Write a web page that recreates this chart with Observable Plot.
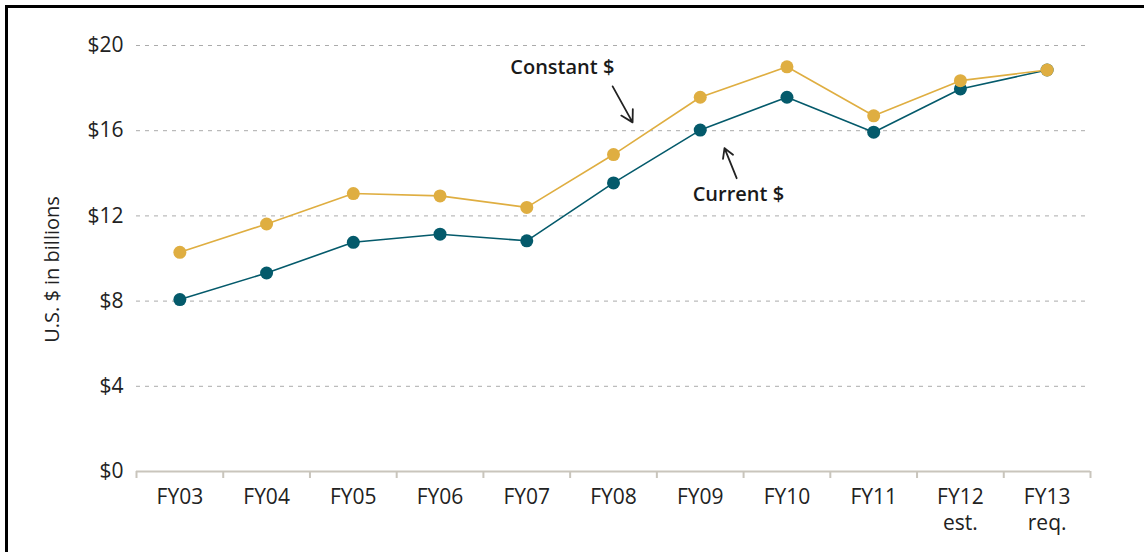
<!DOCTYPE html>
<html>
<head>
<meta charset="utf-8">
<script src="https://cdn.jsdelivr.net/npm/d3@7"></script>
<script src="https://cdn.jsdelivr.net/npm/@observablehq/plot@0.6"></script>
<style>
  html, body { margin: 0; padding: 0; background: #fff; }
  #wrap { position: relative; width: 1144px; height: 552px; overflow: hidden; }
  #frame { position: absolute; left: 5px; top: 5px; right: -10px; bottom: -10px; border-top: 3px solid #000; border-left: 3px solid #000; pointer-events: none; }
  #chart { position: absolute; left: 0; top: 0; }
</style>
</head>
<body>
<div id="wrap"><div id="chart"></div><div id="frame"></div></div>
<script>
const categories = ["FY03", "FY04", "FY05", "FY06", "FY07", "FY08", "FY09", "FY10", "FY11", "FY12", "FY13"];
const subLabels = ["", "", "", "", "", "", "", "", "", "est.", "req."];
const constantValues = [10.29, 11.62, 13.05, 12.94, 12.40, 14.88, 17.57, 19.0, 16.70, 18.35, 18.85];
const currentValues = [8.07, 9.32, 10.76, 11.14, 10.83, 13.55, 16.03, 17.57, 15.93, 17.96, 18.85];
const yTicks = [0, 4, 8, 12, 16, 20];
const yLabel = "U.S. $ in billions";
const seriesNames = ["Constant $", "Current $"];
// annotation anchors in data units (category index, $ billions)
const labelPos = [{x: 4.41, y: 18.97}, {x: 6.44, y: 13.0}];
const arrowPos = [
  {x1: 4.99, y1: 18.08, x2: 5.22, y2: 16.39},
  {x1: 6.42, y1: 13.77, x2: 6.28, y2: 15.18}
];

const gold = "#dfae41";
const teal = "#045a6b";
const axisGray = "#c9c5bc";

const constantData = categories.map((c, i) => ({i, v: constantValues[i]}));
const currentData = categories.map((c, i) => ({i, v: currentValues[i]}));
const subData = subLabels.map((s, i) => ({i, s})).filter(d => d.s);
const labels = labelPos.map((p, k) => ({...p, text: seriesNames[k]}));
const boundaries = d3.range(categories.length + 1).map(i => i - 0.5);

const chart = Plot.plot({
  width: 1144,
  height: 552,
  marginLeft: 136,
  marginRight: 54,
  marginTop: 45,
  marginBottom: 81,
  style: {fontFamily: "'Open Sans', sans-serif", fontSize: "21px", color: "#222", background: "transparent"},
  x: {type: "linear", domain: [-0.5, categories.length - 0.5]},
  y: {domain: [0, 20]},
  marks: [
    Plot.gridY(yTicks.filter(d => d > 0), {stroke: "#8f8f8f", strokeOpacity: 0.75, strokeDasharray: "4,5", strokeWidth: 1}),
    Plot.axisY({ticks: yTicks, tickFormat: d => "$" + d, tickSize: 0, tickPadding: 13, fontSize: 21, label: null}),
    Plot.text([yLabel], {frameAnchor: "left", textAnchor: "middle", rotate: -90, dx: -84, dy: 11, fontSize: 20, fill: "#222"}),
    Plot.ruleY([0], {stroke: axisGray, strokeWidth: 2}),
    Plot.axisX({ticks: boundaries, tickFormat: () => "", tickSize: 7, stroke: axisGray, strokeWidth: 2, label: null}),
    Plot.axisX({ticks: d3.range(categories.length), tickSize: 0, tickPadding: 18, fontSize: 21,
      tickFormat: i => categories[i], label: null}),
    Plot.text(subData, {x: "i", y: () => 0, text: "s", dy: 52, fontSize: 21, fill: "#222"}),
    Plot.line(currentData, {x: "i", y: "v", stroke: teal, strokeWidth: 1.6}),
    Plot.dot(currentData, {x: "i", y: "v", r: 6.5, fill: teal}),
    Plot.line(constantData, {x: "i", y: "v", stroke: gold, strokeWidth: 1.6}),
    Plot.dot(constantData, {x: "i", y: "v", r: 6.5, fill: gold}),
    Plot.arrow(arrowPos, {x1: "x1", y1: "y1", x2: "x2", y2: "y2", stroke: "#222", strokeWidth: 1.8, headLength: 11}),
    Plot.text(labels, {x: "x", y: "y", text: "text", fontSize: 20, fontWeight: 600, fill: "#1a1a1a"})
  ]
});
document.getElementById("chart").appendChild(chart);
</script>
</body>
</html>
